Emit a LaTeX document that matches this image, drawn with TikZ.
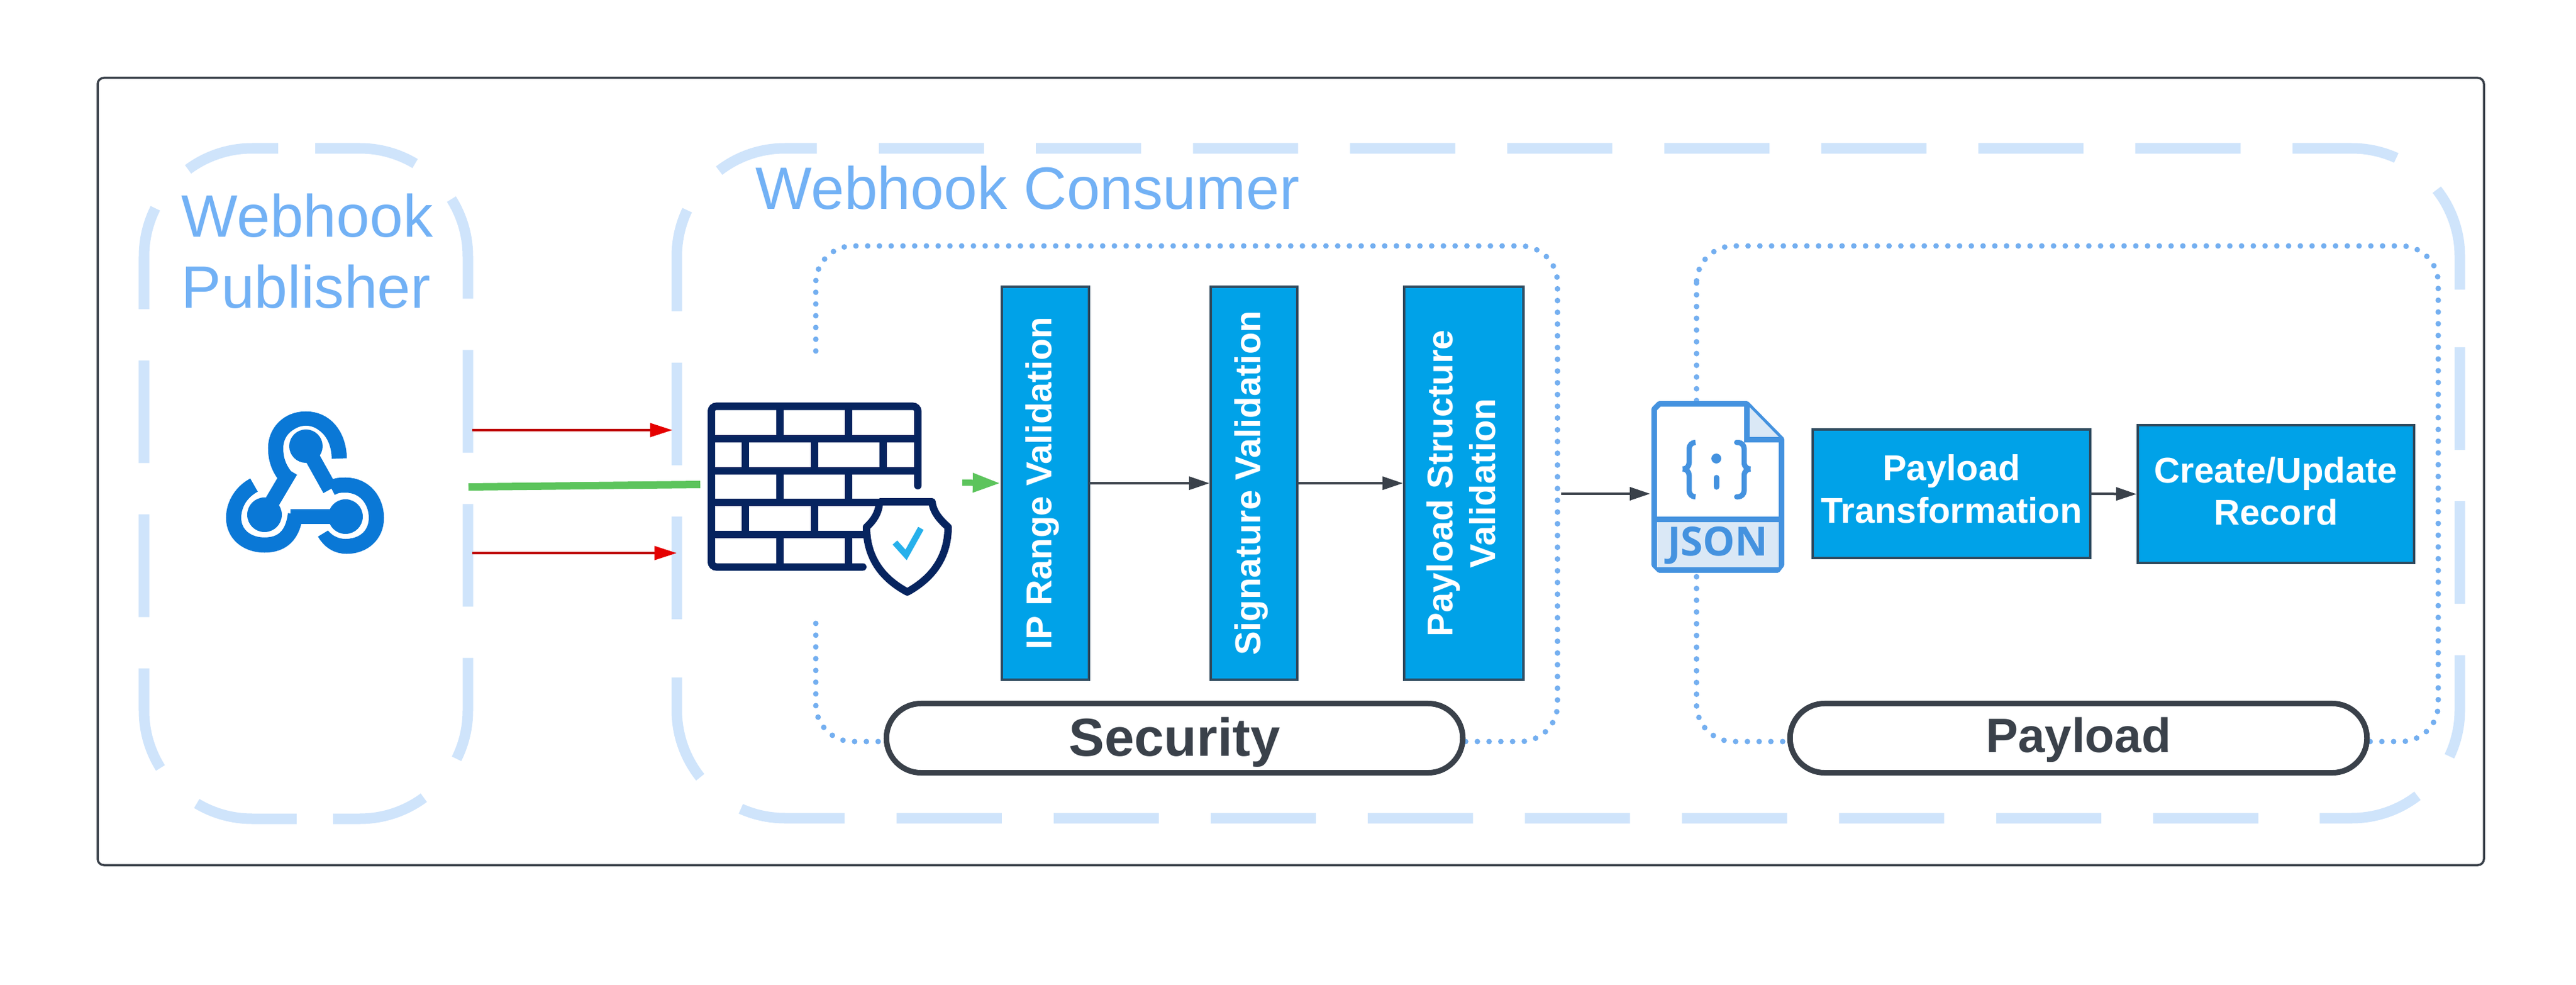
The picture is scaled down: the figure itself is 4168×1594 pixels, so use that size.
\documentclass[tikz,border=0pt]{standalone}
\usepackage{fontspec}
\setmainfont{Liberation Sans}
\newfontfamily\jsonfont{Open Sans}
\usetikzlibrary{arrows.meta,positioning}
\definecolor{dashblue}{HTML}{CFE4FB}
\definecolor{dotblue}{HTML}{74AFF0}
\definecolor{titleblue}{HTML}{72B1F5}
\definecolor{boxblue}{HTML}{00A2E8}
\definecolor{boxline}{HTML}{2F4A5E}
\definecolor{slate}{HTML}{3A414A}
\definecolor{hookblue}{HTML}{0A78D6}
\definecolor{navy}{HTML}{06245F}
\definecolor{jsonblue}{HTML}{4492DF}
\definecolor{jsonpale}{HTML}{DAE8F6}
\definecolor{flowgreen}{HTML}{5CC45C}
\newcommand{\lowstrut}[1]{\rule[-#1]{0pt}{#1}}

\begin{document}
\begin{tikzpicture}[x=0.01cm,y=-0.01cm]
	\tikzstyle{vdash}=[draw=dashblue, line width=0.17cm, dash pattern=on 1.66cm off 0.83cm, rounded corners=1.75cm]
	\tikzstyle{hdash}=[draw=dashblue, line width=0.17cm, dash pattern=on 1.70cm off 0.84cm, rounded corners=1.75cm]
	\tikzstyle{dotbox}=[draw=dotblue, line width=0.09cm, line cap=round, dash pattern=on 0pt off 0.19cm, rounded corners=0.6cm]
	\tikzstyle{title}=[text=titleblue, font=\fontsize{27.5}{32.7}\selectfont, inner sep=0pt]
	\tikzstyle{valbox}=[draw=boxline, fill=boxblue, line width=0.04cm, text=white, align=center, font=\fontsize{16.5}{19.6}\selectfont\bfseries, inner sep=0pt]
	\tikzstyle{pill}=[draw=slate, fill=white, line width=0.09cm, rounded corners=0.56cm, text=slate, inner sep=0pt, font=\bfseries]
	\tikzstyle{flow}=[draw=slate, line width=0.04cm, -{Triangle[length=0.33cm,width=0.21cm]}]
	\tikzstyle{hookline}=[draw=hookblue, line width=0.245cm]
	\tikzstyle{brick}=[draw=navy, line width=0.12cm]
	\tikzstyle{jsonline}=[draw=jsonblue, line width=0.09cm]
	\path [use as bounding box, fill=white] (0,0) rectangle (4168,1594);
	\draw [slate, line width=0.035cm, rounded corners=0.1cm] (158,126) rectangle (4019,1400);

	\draw [vdash] (510,240) -- (757,240) -- (757,1325) -- (539,1325);
	\draw [vdash] (480,1325) -- (233,1325) -- (233,240) -- (450,240);
	\draw [hdash] (1422,240) -| (3980,478);
	\draw [vdash] (3980,562) |- (3740,1324);
	\draw [hdash] (3654,1324) -| (1095,1085);
	\draw [vdash] (1095,1002) |- (1337,240);
	\draw [dotbox] (1320,568) -- (1320,398) -- (2520,398) -- (2520,1200) -- (1320,1200) -- (1320,1003);
	\draw [dotbox] (2745,398) rectangle (3945,1200);

	\node [title, anchor=north west, align=left] (publisher) at (293,313) {Webhook\\Publisher};
	\node [title, anchor=base west] (consumer) at (1222,338) {Webhook Consumer};

	\node [valbox, rotate=90, minimum width=6.36cm, minimum height=1.41cm] (ipval) at (1691.5,782) {IP Range Validation\lowstrut{0.22cm}};
	\node [valbox, rotate=90, minimum width=6.36cm, minimum height=1.40cm] (sigval) at (2029,782) {Signature Validation\lowstrut{0.22cm}};
	\node [valbox, rotate=90, minimum width=6.36cm, minimum height=1.93cm] (structval) at (2368.5,782) {Payload Structure\\Validation\lowstrut{0.10cm}};
	\node [valbox, minimum width=4.49cm, minimum height=2.08cm] (xform) at (3157.5,799) {Payload\\Transformation\lowstrut{0.16cm}};
	\node [valbox, minimum width=4.47cm, minimum height=2.23cm] (record) at (3682.5,799.5) {Create/Update\\Record\lowstrut{0.10cm}};
	\node [pill, minimum width=9.32cm, minimum height=1.12cm, font=\fontsize{24.6}{30}\selectfont\bfseries, text height=0.76cm, text depth=0.18cm] (security) at (1900.5,1194.5) {Security};
	\node [pill, minimum width=9.33cm, minimum height=1.12cm, font=\fontsize{22.2}{26}\selectfont\bfseries, text height=0.61cm, text depth=0.16cm] (payload) at (3363,1194.5) {Payload};

	\coordinate (redtopa) at (764,696);
	\coordinate (redtopb) at (1088,696);
	\coordinate (redlowa) at (764,895);
	\coordinate (redlowb) at (1095,895);
	\coordinate (greena) at (758,788);
	\coordinate (greenb) at (1133,784);
	\coordinate (greenc) at (1557,781);
	\coordinate (jsonout) at (2526,799);
	\coordinate (jsonin) at (2670,799);
	\draw [draw=red!75!black, line width=0.04cm, -{Triangle[length=0.36cm,width=0.22cm,color=red!90!black]}] (redtopa) -- (redtopb);
	\draw [draw=red!75!black, line width=0.04cm, -{Triangle[length=0.36cm,width=0.22cm,color=red!90!black]}] (redlowa) -- (redlowb);
	\draw [draw=flowgreen, line width=0.12cm] (greena) -- (greenb);
	\draw [draw=flowgreen, line width=0.10cm, -{Triangle[length=0.45cm,width=0.29cm]}] (greenc) -- (ipval.north);
	\draw [flow] (ipval.south) -- (sigval.north);
	\draw [flow] (sigval.south) -- (structval.north);
	\draw [flow] (jsonout) -- (jsonin);
	\draw [flow] (xform.east) -- (record.west);

	\draw [hookline] (549,742) .. controls (548,702) and (525,678) .. (495,678) .. controls (465,678) and (446,700) .. (446,725) .. controls (446,745) and (452,760) .. (466,776);
	\draw [hookline] (536,790) .. controls (545,785) and (550,785) .. (559,785) .. controls (590,785) and (609,810) .. (609,838) .. controls (609,866) and (588,884) .. (561,884) .. controls (545,884) and (533,876) .. (525,862);
	\draw [hookline] (411,785) .. controls (392,795) and (378,815) .. (378,838) .. controls (378,865) and (400,882) .. (428,882) .. controls (458,882) and (474,865) .. (478,832);
	\fill [white] (495,722) circle (0.33cm);
	\fill [white] (428,833) circle (0.36cm);
	\fill [white] (559,836) circle (0.36cm);
	\draw [hookline] (495,722) -- (534,792);
	\draw [hookline] (428,833) -- (470,762);
	\draw [hookline] (559,836) -- (470,836);
	\fill [hookblue] (495,722) circle (0.27cm);
	\fill [hookblue] (428,833) circle (0.28cm);
	\fill [hookblue] (559,836) circle (0.28cm);

	\foreach \yb in {709.5,762,812.5,865} \draw [brick] (1151,\yb) -- (1485,\yb);
	\draw [brick, line cap=round, rounded corners=0.08cm] (1396,917.5) -- (1151,917.5) -- (1151,657.5) -- (1485,657.5) -- (1485,786);
	\draw [brick, line cap=round] (1485,812.5) -- (1508,812.5);
	\foreach \xb in {1262,1373} {
		\draw [brick] (\xb,657.5) -- (\xb,709.5);
		\draw [brick] (\xb,762) -- (\xb,812.5);
		\draw [brick] (\xb,865) -- (\xb,917.5);
	}
	\foreach \xb in {1206,1318,1429} \draw [brick] (\xb,709.5) -- (\xb,762);
	\foreach \xb in {1206,1318} \draw [brick] (\xb,812.5) -- (\xb,865);
	\draw [brick, fill=white, line join=round] (1423,812) -- (1508,812) .. controls (1510,830) and (1522,842) .. (1534,853) .. controls (1534,900) and (1510,935) .. (1468,958) .. controls (1425,935) and (1402,900) .. (1402,853) .. controls (1414,842) and (1422,830) .. (1423,812);
	\draw [draw=boxblue!85!white, line width=0.1cm] (1448,878) -- (1466,898) -- (1490,855);

	\draw [jsonline, fill=white, line join=round] (2685,653.5) -- (2826,653.5) -- (2882.5,711) -- (2882.5,914) -- (2876,922.5) -- (2685,922.5) -- (2676.5,914) -- (2676.5,662) -- cycle;
	\fill [jsonpale] (2681,841) rectangle (2878,918);
	\fill [jsonpale] (2830,658) -- (2878,707) -- (2830,707) -- cycle;
	\draw [jsonline] (2826,653.5) -- (2826,711) -- (2882.5,711);
	\draw [jsonline] (2676.5,840.5) -- (2882.5,840.5);
	\node [text=jsonblue, font=\jsonfont\fontsize{18.5}{22}\selectfont\bfseries, inner sep=0pt] (jsonname) at (2779,883) {JSON};
	\draw [jsonblue, line width=0.085cm, line cap=round, rounded corners=0.1cm] (2743,716) -- (2733,716) -- (2733,759) -- (2718,759) -- (2733,759) -- (2733,804) -- (2743,804);
	\draw [jsonblue, line width=0.085cm, line cap=round, rounded corners=0.1cm] (2810,716) -- (2822,716) -- (2822,759) -- (2837,759) -- (2822,759) -- (2822,804) -- (2810,804);
	\fill [jsonblue] (2777,742) circle (0.08cm);
	\draw [jsonblue, line width=0.09cm, line cap=round] (2777,773) -- (2777,788);
\end{tikzpicture}
\end{document}
